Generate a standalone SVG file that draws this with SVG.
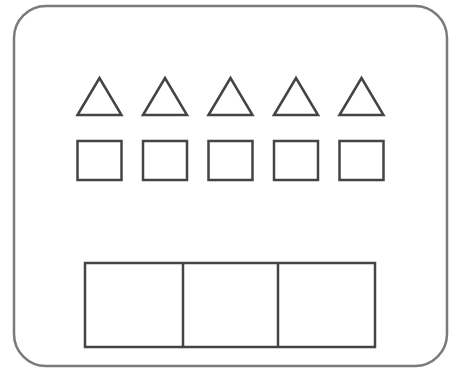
<svg xmlns="http://www.w3.org/2000/svg" width="454" height="369" viewBox="0 0 454 369">
<style>
.frame{fill:#fff;stroke:#7a7a7a;stroke-width:2.5}
.sh{fill:none;stroke:#444;stroke-width:2.5;stroke-linejoin:miter}
</style>
<rect width="454" height="369" fill="#fff"/>
<g id="frame"><rect class="frame" x="14" y="6" width="433" height="360" rx="32" ry="32"/></g>
<g id="triangles">
<polygon class="sh" points="77.5,115 99.5,78 121.5,115"/>
<polygon class="sh" points="143,115 165,78 187,115"/>
<polygon class="sh" points="208.5,115 230.5,78 252.5,115"/>
<polygon class="sh" points="274,115 296,78 318,115"/>
<polygon class="sh" points="339.5,115 361.5,78 383.5,115"/>
</g>
<g id="squares">
<rect class="sh" x="77.5" y="141" width="44" height="39"/>
<rect class="sh" x="143" y="141" width="44" height="39"/>
<rect class="sh" x="208.5" y="141" width="44" height="39"/>
<rect class="sh" x="274" y="141" width="44" height="39"/>
<rect class="sh" x="339.5" y="141" width="44" height="39"/>
</g>
<g id="bottom-box">
<rect class="sh" x="85" y="263" width="290" height="84"/>
<line class="sh" x1="183" y1="263" x2="183" y2="347"/>
<line class="sh" x1="278" y1="263" x2="278" y2="347"/>
</g>
</svg>
